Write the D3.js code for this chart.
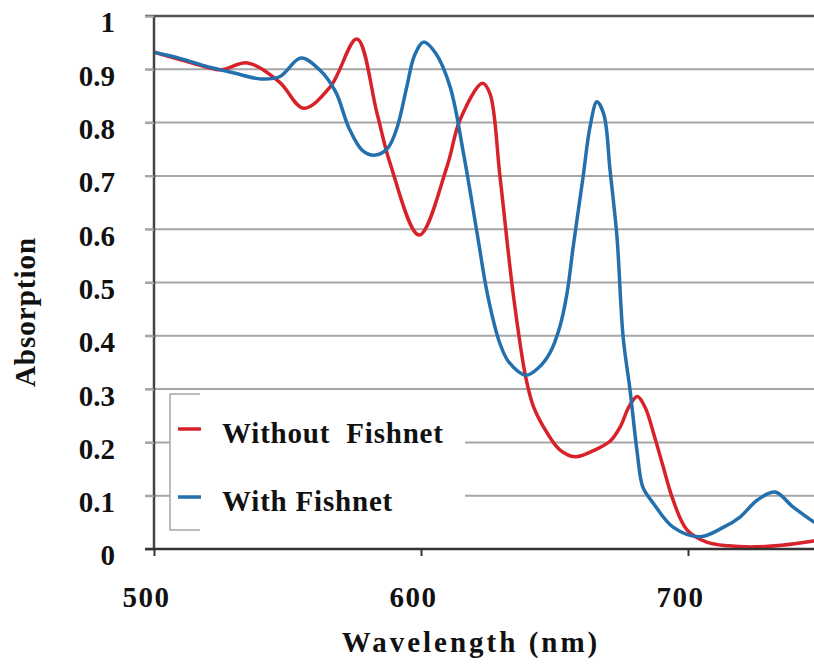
<!DOCTYPE html>
<html>
<head>
<meta charset="utf-8">
<script src="https://cdn.jsdelivr.net/npm/d3@7"></script>
<style>
  html, body { margin: 0; padding: 0; background: #fff; }
  svg { display: block; }
  text { font-family: "Liberation Serif", "Times New Roman", serif; font-weight: bold; fill: #111; }
</style>
</head>
<body>
<svg id="chart" width="814" height="665"></svg>
<script>
// ---- data ----
const xTicks = [500, 600, 700];
const yTicks = [0, 0.1, 0.2, 0.3, 0.4, 0.5, 0.6, 0.7, 0.8, 0.9, 1];
const yTickLabels = ["0", "0.1", "0.2", "0.3", "0.4", "0.5", "0.6", "0.7", "0.8", "0.9", "1"];
const seriesNames = ["Without  Fishnet", "With Fishnet"];
const seriesColors = ["#d8222a", "#2470ad"];

const withoutX = [500, 510, 517, 525, 535, 547, 556, 566, 576, 583.5, 588.4, 599.3, 609.7, 614.6, 623, 625.8, 629.6, 634.5, 639.2, 642.2, 647.2, 652, 657.7, 666, 671, 674.5, 678, 681, 684, 687.5, 690.5, 694.4, 699.6, 707, 715, 725, 735, 747];
const withoutY = [0.932, 0.918, 0.908, 0.899, 0.912, 0.876, 0.827, 0.867, 0.957, 0.818, 0.724, 0.589, 0.717, 0.805, 0.874, 0.855, 0.698, 0.48, 0.323, 0.266, 0.218, 0.186, 0.173, 0.188, 0.203, 0.228, 0.268, 0.286, 0.265, 0.21, 0.158, 0.092, 0.036, 0.013, 0.006, 0.004, 0.007, 0.015];

const withX = [500, 510, 520, 530, 540, 547, 555, 562, 568, 573, 578, 582.8, 587.5, 591, 594.8, 597.5, 601, 605.5, 610.9, 616, 621, 625, 629.6, 633, 639.3, 644, 648.3, 652, 654.7, 657, 660.7, 663.3, 665.9, 668.5, 670.8, 673.4, 675.7, 678.3, 681, 683.1, 687, 694.4, 704.5, 713, 719.5, 726, 732.6, 739.3, 747];
const withY = [0.932, 0.92, 0.905, 0.893, 0.882, 0.886, 0.921, 0.899, 0.858, 0.79, 0.748, 0.739, 0.752, 0.79, 0.87, 0.925, 0.951, 0.93, 0.867, 0.74, 0.593, 0.475, 0.385, 0.35, 0.326, 0.34, 0.368, 0.417, 0.48, 0.567, 0.698, 0.792, 0.839, 0.815, 0.711, 0.585, 0.398, 0.298, 0.18, 0.116, 0.086, 0.041, 0.023, 0.04, 0.06, 0.092, 0.107, 0.079, 0.051];

// ---- layout ----
const svg = d3.select("#chart");
const mLeft = 154, mTop = 16, mBottom = 549, rightEdge = 830;
const x = d3.scaleLinear().domain([500, 750]).range([mLeft, mLeft + 250 * 2.67]);
const y = d3.scaleLinear().domain([0, 1]).range([mBottom, mTop]);

svg.append("rect").attr("width", 814).attr("height", 665).attr("fill", "#fff");

// gridlines (with left tick stubs)
svg.append("g").selectAll("line").data(yTicks.filter(d => d > 0 && d < 1)).join("line")
  .attr("x1", mLeft - 9).attr("x2", rightEdge)
  .attr("y1", d => y(d)).attr("y2", d => y(d))
  .attr("stroke", "#a6a6a6").attr("stroke-width", 2);

// top border
svg.append("line").attr("x1", mLeft - 9).attr("x2", rightEdge)
  .attr("y1", y(1)).attr("y2", y(1)).attr("stroke", "#555").attr("stroke-width", 2.5);

// legend background (covers gridlines)
const lg = svg.append("g");
lg.append("rect").attr("x", 170).attr("y", 394).attr("width", 295).attr("height", 136).attr("fill", "#fff");
lg.append("path").attr("d", "M200,394 H170 V530 H200").attr("fill", "none").attr("stroke", "#a6a6a6").attr("stroke-width", 1.5);

// series lines
const line = d3.line().curve(d3.curveCatmullRom.alpha(0.5)).x(d => x(d[0])).y(d => y(d[1]));
svg.append("clipPath").attr("id", "clip").append("rect")
  .attr("x", mLeft).attr("y", 0).attr("width", 814 - mLeft).attr("height", mBottom + 2);
const series = [d3.zip(withoutX, withoutY), d3.zip(withX, withY)];
svg.append("g").attr("clip-path", "url(#clip)").selectAll("path").data(series).join("path")
  .attr("d", d => line(d)).attr("fill", "none")
  .attr("stroke", (d, i) => seriesColors[i]).attr("stroke-width", 3.5)
  .attr("stroke-linejoin", "round").attr("stroke-linecap", "round");

// axes
const yAxis = svg.append("g").attr("transform", `translate(${mLeft},0)`)
  .call(d3.axisLeft(y).tickValues(yTicks).tickSize(9).tickFormat((d, i) => yTickLabels[i]));
yAxis.select(".domain").attr("stroke", "#444").attr("stroke-width", 2.5).attr("d", `M0,${mTop}V${mBottom}`);
yAxis.selectAll(".tick line").attr("stroke", "#a6a6a6").attr("stroke-width", 2);
yAxis.selectAll(".tick text").attr("x", -39).attr("dy", "0.55em")
  .style("font-size", "29px").style("font-family", "'Liberation Serif', serif").style("font-weight", "bold").attr("fill", "#111");

const xAxis = svg.append("g").attr("transform", `translate(0,${mBottom})`)
  .call(d3.axisBottom(x).tickValues(xTicks).tickSize(7).tickFormat(d3.format("d")));
xAxis.select(".domain").attr("stroke", "#333").attr("stroke-width", 2.5).attr("d", `M${mLeft - 9},0H${rightEdge}`);
xAxis.selectAll(".tick line").attr("stroke", "#333").attr("stroke-width", 2);
xAxis.selectAll(".tick text").attr("x", -8).attr("y", 58).attr("dy", 0)
  .style("font-size", "29px").style("letter-spacing", "1.5px").style("font-family", "'Liberation Serif', serif").style("font-weight", "bold").attr("fill", "#111");

// legend items
const items = lg.selectAll("g.item").data(seriesNames).join("g").attr("class", "item")
  .attr("transform", (d, i) => `translate(0,${429 + i * 68})`);
items.append("line").attr("x1", 178).attr("x2", 201).attr("y1", 0).attr("y2", 0)
  .attr("stroke", (d, i) => seriesColors[i]).attr("stroke-width", 3.5);
items.append("text").attr("x", 222).attr("y", 14).style("font-size", "29px").style("letter-spacing", "0.8px")
  .style("white-space", "pre").attr("xml:space", "preserve").text(d => d);

// axis titles
svg.append("text").attr("x", 471).attr("y", 652).attr("text-anchor", "middle")
  .style("font-size", "29px").style("letter-spacing", "3px").text("Wavelength (nm)");
svg.append("text").attr("transform", "translate(35,312) rotate(-90)").attr("text-anchor", "middle")
  .style("font-size", "29px").style("letter-spacing", "1px").text("Absorption");
</script>
</body>
</html>
